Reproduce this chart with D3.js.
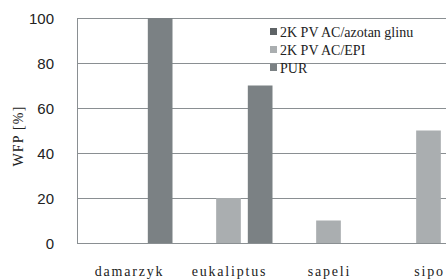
<!DOCTYPE html>
<html>
<head>
<meta charset="utf-8">
<script src="https://d3js.org/d3.v7.min.js"></script>
<style>
  body { margin: 0; background: #fff; }
</style>
</head>
<body>
<div id="chart"></div>
<script>
// wood species
var categories = ["damarzyk", "eukaliptus", "sapeli", "sipo"];
var seriesNames = ["2K PVAC/azotanglinu", "2K PVAC/EPI", "PUR"];
var legendLabels = ["2K PV AC/azotan glinu", "2K PV AC/EPI", "PUR"];
var azotanValues = [0, 0, 0, 0];
var epiValues = [0, 20, 10, 50];
var purValues = [100, 70, 0, 0];
var yTicks = [0, 20, 40, 60, 80, 100];

var colors = ["#5e6366", "#aaaeb0", "#7b8184"];
var serif = "'Liberation Serif', 'Times New Roman', 'DejaVu Serif', serif";
var sans = "'Liberation Sans', Arial, sans-serif";

var width = 446, height = 280;
var margin = {top: 18, left: 77, bottom: 37};
var plotW = 400;

var svg = d3.select("#chart").append("svg")
    .attr("width", width)
    .attr("height", height)
    .attr("font-family", serif);

var x0 = d3.scaleBand()
    .domain(categories)
    .range([margin.left + 1.5, margin.left + 1.5 + plotW])
    .padding(0);

var x1 = d3.scaleBand()
    .domain(seriesNames)
    .range([-44, 44])
    .paddingInner(0.22);

var y = d3.scaleLinear()
    .domain([0, 100])
    .range([height - margin.bottom, margin.top]);

// gridlines
svg.append("g")
    .selectAll("line")
    .data(yTicks)
    .enter().append("line")
    .attr("x1", margin.left)
    .attr("x2", margin.left + plotW + 10)
    .attr("y1", function(d) { return Math.round(y(d)) + 0.5; })
    .attr("y2", function(d) { return Math.round(y(d)) + 0.5; })
    .style("stroke", "#8a8f92")
    .style("stroke-width", 1);

// left border
svg.append("line")
    .attr("x1", margin.left + 0.5).attr("x2", margin.left + 0.5)
    .attr("y1", Math.round(y(100)) + 0.5).attr("y2", Math.round(y(0)) + 0.5)
    .style("stroke", "#8a8f92");

// bars
var table = [azotanValues, epiValues, purValues];
var groups = svg.append("g").selectAll("g")
    .data(categories)
    .enter().append("g")
    .attr("transform", function(d) { return "translate(" + (x0(d) + x0.bandwidth() / 2) + ",0)"; });

groups.selectAll("rect")
    .data(function(d, i) {
        return seriesNames.map(function(s, j) { return {series: s, value: table[j][i], idx: j}; });
    })
    .enter().append("rect")
    .attr("x", function(d) { return x1(d.series); })
    .attr("width", x1.bandwidth())
    .attr("y", function(d) { return y(d.value); })
    .attr("height", function(d) { return y(0) - y(d.value); })
    .attr("fill", function(d) { return colors[d.idx]; });

// y tick labels
svg.append("g").selectAll("text")
    .data(yTicks)
    .enter().append("text")
    .attr("x", 54)
    .attr("y", function(d) { return y(d) + 5.5; })
    .attr("text-anchor", "end")
    .attr("fill", "#222")
    .attr("font-family", sans)
    .style("font-size", "15px")
    .text(function(d) { return d; });

// x labels
svg.append("g").selectAll("text")
    .data(categories)
    .enter().append("text")
    .attr("x", function(d) { return x0(d) + x0.bandwidth() / 2 + 1; })
    .attr("y", 276)
    .attr("text-anchor", "middle")
    .attr("fill", "#222")
    .style("font-size", "14px")
    .style("letter-spacing", "1.8px")
    .text(function(d) { return d; });

// y title
svg.append("text")
    .attr("transform", "translate(23,136) rotate(-90)")
    .attr("text-anchor", "middle")
    .attr("fill", "#222")
    .style("font-size", "14px")
    .style("letter-spacing", "1.2px")
    .text("WFP [%]");

// legend
var legend = svg.append("g").selectAll("g")
    .data(legendLabels)
    .enter().append("g")
    .attr("transform", function(d, i) { return "translate(270," + (32 + i * 18) + ")"; });

legend.append("rect")
    .attr("x", 0).attr("y", -4)
    .attr("width", 7).attr("height", 7)
    .attr("fill", function(d, i) { return colors[i]; });

legend.append("text")
    .attr("x", 10)
    .attr("y", 5)
    .attr("fill", "#222")
    .style("font-size", "14px")
    .text(function(d) { return d; });
</script>
</body>
</html>
